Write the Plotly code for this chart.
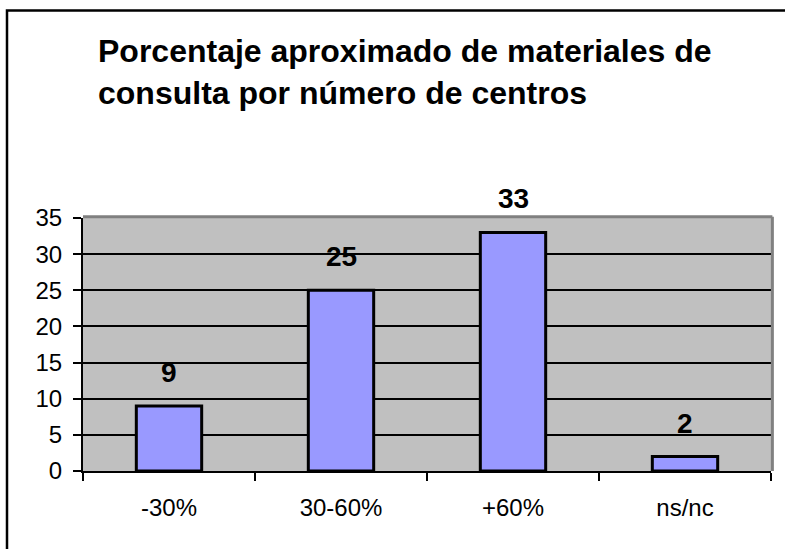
import plotly.graph_objects as go

# data
categorias = ["-30%", "30-60%", "+60%", "ns/nc"]
centros = [9, 25, 33, 2]
titulo = "Porcentaje aproximado de materiales de<br>consulta por número de centros"

fuente = "Liberation Sans, Arial, sans-serif"

fig = go.Figure(
    data=go.Bar(
        x=categorias,
        y=centros,
        width=0.38,
        marker=dict(color="#9999FF", line=dict(color="black", width=3)),
    )
)

# etiquetas de valor encima de cada barra
for c, v in zip(categorias, centros):
    fig.add_annotation(
        x=c, y=v, text="<b>%d</b>" % v, showarrow=False,
        yanchor="bottom", yshift=16,
        font=dict(family=fuente, size=28, color="black"),
    )

fig.update_layout(
    width=785,
    height=549,
    margin=dict(l=83, r=14, t=218, b=78),
    paper_bgcolor="white",
    plot_bgcolor="#C0C0C0",
    showlegend=False,
    font=dict(family=fuente, color="black"),
    title=dict(
        text="<b>" + titulo + "</b>",
        xref="container", x=98 / 785, xanchor="left",
        yref="container", y=1 - 62 / 549, yanchor="top",
        font=dict(family=fuente, size=32, color="black"),
    ),
    xaxis=dict(
        type="category",
        tickson="boundaries",
        ticks="outside", ticklen=8, tickwidth=2, tickcolor="black",
        showline=True, linecolor="black", linewidth=2,
        showgrid=False,
        tickfont=dict(size=24),
        ticklabelstandoff=14,
    ),
    yaxis=dict(
        range=[0, 35], dtick=5,
        ticks="outside", ticklen=8, tickwidth=2, tickcolor="black",
        showline=True, linecolor="black", linewidth=2,
        showgrid=True, gridcolor="black", gridwidth=2,
        zeroline=False,
        tickfont=dict(size=24),
        ticklabelstandoff=6,
    ),
    shapes=[
        # borde gris superior y derecho del area de trazado
        dict(type="line", xref="paper", yref="paper", x0=0, x1=1.002, y0=1.005, y1=1.005,
             line=dict(color="#808080", width=3)),
        dict(type="line", xref="paper", yref="paper", x0=1.002, x1=1.002, y0=0, y1=1.005,
             line=dict(color="#808080", width=3)),
        # marco exterior
        dict(type="rect", xref="paper", yref="paper", x0=(7 - 83) / 688, x1=1.05,
             y0=-0.4, y1=(471 - 10.5) / 253, line=dict(color="black", width=2.5)),
    ],
)

fig.write_html("out.html", config={"displayModeBar": False},
               post_script="document.body.style.margin='0';")
